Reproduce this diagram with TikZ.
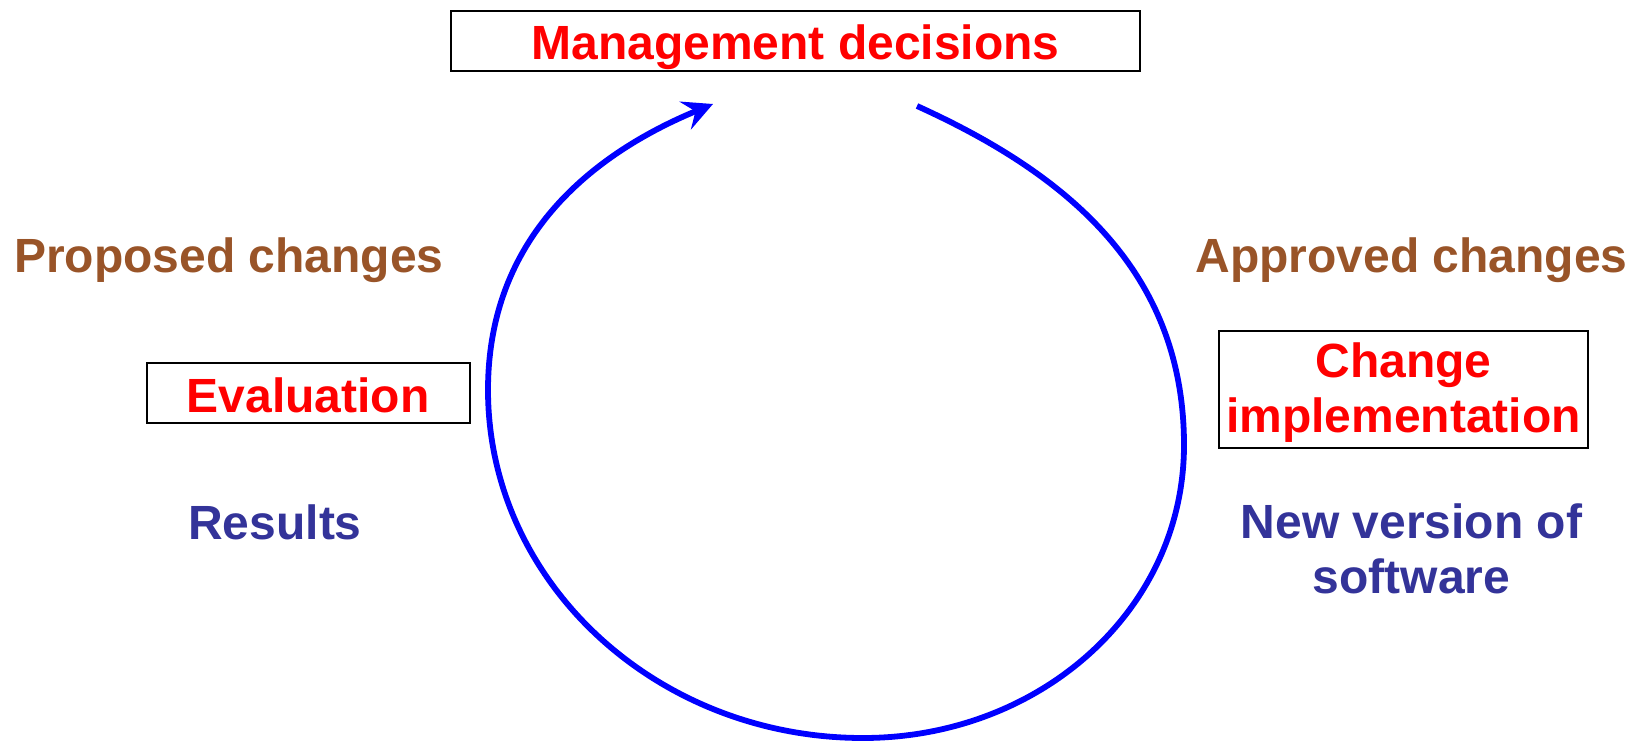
\documentclass[tikz,border=0pt]{standalone}
\usepackage{fontspec}
\setmainfont{Liberation Sans}
\usetikzlibrary{arrows.meta}
\definecolor{brn}{RGB}{153,84,40}
\definecolor{dblue}{RGB}{51,51,153}
\begin{document}
\begin{tikzpicture}[x=0.5pt,y=-0.5pt,
  lbl/.style={font=\fontsize{24pt}{27.5pt}\selectfont\bfseries, inner sep=0pt, anchor=base},
  boxnode/.style={draw=black, line width=1pt, inner sep=0pt},
  loopline/.style={draw=blue, line width=2.9pt, line join=round, -{Stealth[length=15pt,width=15pt,inset=5.5pt]}}]
\useasboundingbox[fill=white] (0,0) rectangle (1638,743);
% boxes
\node[boxnode, minimum width=344.5pt, minimum height=30pt] (mgmt) at (795.5,41) {};
\node[lbl, red] (mgmtT) at (795.5,60) {Management decisions};
\node[boxnode, minimum width=161.5pt, minimum height=30pt] (eval) at (308.5,393) {};
\node[lbl, red] (evalT) at (308,412) {Evaluation};
\node[boxnode, minimum width=184.5pt, minimum height=58.5pt] (chg) at (1403.5,389.5) {};
\node[lbl, red] (chgT) at (1403.5,377) {\begin{tabular}[t]{@{}c@{}}Change\\implementation\end{tabular}};
% labels
\node[lbl, brn] (prop) at (229,272) {Proposed changes};
\node[lbl, brn] (appr) at (1411.5,272) {Approved changes};
\node[lbl, dblue] (res) at (275,539) {Results};
\node[lbl, dblue] (newv) at (1411.5,538) {\begin{tabular}[t]{@{}c@{}}New version of\\software\end{tabular}};
% loop
\coordinate (arcS) at (917,106);
\coordinate (arcR) at (1184,445);
\coordinate (arcB) at (863,738);
\coordinate (arcL) at (488,390);
\coordinate (arcE) at (713,104);
\draw[loopline] (arcS) .. controls (1058,170) and (1184,265) .. (arcR)
  .. controls (1184,610) and (1040,738) .. (arcB)
  .. controls (656,738) and (488,582) .. (arcL)
  .. controls (488,230) and (602,150) .. (arcE);
\end{tikzpicture}
\end{document}
